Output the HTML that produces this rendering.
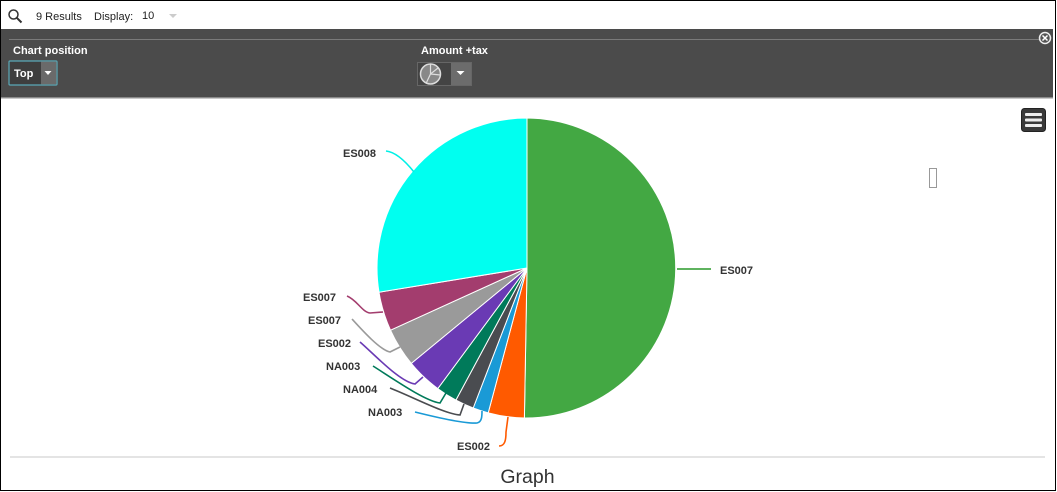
<!DOCTYPE html>
<html><head><meta charset="utf-8"><style>
html,body{margin:0;padding:0;background:#fff;}
svg{display:block;}
text{font-family:"Liberation Sans",Arial,sans-serif;}
</style></head><body>
<svg width="1057" height="492" viewBox="0 0 1057 492" xmlns="http://www.w3.org/2000/svg">
<rect x="0" y="0" width="1057" height="492" fill="#fff"/>
<!-- top bar -->
<circle cx="13.5" cy="14.5" r="4.5" fill="none" stroke="#333" stroke-width="1.5"/>
<line x1="16.8" y1="17.8" x2="21.5" y2="22.5" stroke="#333" stroke-width="2"/>
<text x="36" y="20" font-size="11" fill="#222">9 Results</text>
<text x="94" y="20" font-size="11" fill="#222">Display:</text>
<text x="142" y="19" font-size="11" fill="#222">10</text>
<path d="M169 14 L177 14 L173 18 Z" fill="#ccc"/>
<!-- dark panel -->
<rect x="1" y="29" width="1052" height="68" fill="#4b4b4b"/>
<line x1="9" y1="39.5" x2="1040" y2="39.5" stroke="#7a7a7a" stroke-width="1"/>
<rect x="1" y="97" width="1052" height="1" fill="#8a8a8a"/>
<rect x="1" y="98" width="1052" height="1" fill="#c8c8c8"/>
<text x="13" y="54" font-size="11" font-weight="bold" fill="#fff">Chart position</text>
<rect x="9" y="61" width="48" height="24" fill="#3e3e3e" stroke="#5aa9b8" stroke-width="1.2" rx="1"/>
<rect x="41" y="61.6" width="15.4" height="22.8" fill="#6a6a6a"/>
<text x="14" y="77" font-size="11" font-weight="bold" fill="#fff">Top</text>
<path d="M44.5 71 L51.5 71 L48 75 Z" fill="#fff"/>
<text x="421" y="54" font-size="11" font-weight="bold" fill="#fff">Amount +tax</text>
<rect x="417.5" y="62.5" width="54" height="23" fill="#444" stroke="#666" stroke-width="1"/>
<rect x="451" y="63" width="20" height="22" fill="#6c6c6c"/>
<circle cx="430.5" cy="74" r="10" fill="#888" stroke="#ddd" stroke-width="1.5"/>
<path d="M430.5 64 L430.5 74 L438 68 M430.5 74 L426 83.5 M430.5 74 L440.5 75" stroke="#ddd" stroke-width="1.2" fill="none"/>
<path d="M456.5 71 L464.5 71 L460.5 75 Z" fill="#fff"/>
<!-- close icon -->
<circle cx="1045" cy="38" r="5.5" fill="#555" stroke="#eee" stroke-width="1.5"/>
<path d="M1042.5 35.5 L1047.5 40.5 M1047.5 35.5 L1042.5 40.5" stroke="#fff" stroke-width="1.5"/>
<!-- hamburger -->
<rect x="1021.5" y="108.5" width="24" height="23" rx="3" fill="#3a3a3a" stroke="#222"/>
<rect x="1025" y="113" width="17" height="3" rx="1" fill="#eee"/>
<rect x="1025" y="118.5" width="17" height="3" rx="1" fill="#eee"/>
<rect x="1025" y="124" width="17" height="3" rx="1" fill="#eee"/>
<!-- small rect -->
<rect x="929.5" y="168.5" width="7" height="19" fill="none" stroke="#999"/>
<!-- pie -->
<g stroke="#fff" stroke-width="1" stroke-linejoin="round">
<path d="M527 268 L527 118 A150 150 0 1 1 524.4 418 Z" fill="#43a843"/>
<path d="M527 268 L524.4 418 A150 150 0 0 1 488.2 412.9 Z" fill="#ff5a00"/>
<path d="M527 268 L488.2 412.9 A150 150 0 0 1 473.2 408 Z" fill="#1a9ad6"/>
<path d="M527 268 L473.2 408 A150 150 0 0 1 455.9 400.1 Z" fill="#4a4c50"/>
<path d="M527 268 L455.9 400.1 A150 150 0 0 1 437.8 388.6 Z" fill="#007a5a"/>
<path d="M527 268 L437.8 388.6 A150 150 0 0 1 411.3 363.4 Z" fill="#6a3ab4"/>
<path d="M527 268 L411.3 363.4 A150 150 0 0 1 390.5 330.2 Z" fill="#9a9a9a"/>
<path d="M527 268 L390.5 330.2 A150 150 0 0 1 379 292.2 Z" fill="#a33d6e"/>
<path d="M527 268 L379 292.2 A150 150 0 0 1 527 118 Z" fill="#00fff0"/>
</g>
<!-- connectors -->
<g fill="none" stroke-width="1.6">
<path d="M386 151 C396 152 406 162 414 172" stroke="#00f0e6"/>
<path d="M677 269 L711 269" stroke="#2a9a2a"/>
<path d="M347 296 C357 300 362 312 370 313 L383 312" stroke="#a33d6e"/>
<path d="M352 319 C362 330 380 350 390 352 L400 347" stroke="#9a9a9a"/>
<path d="M360 342 C375 355 400 382 415 384 L423 377" stroke="#6a3ab4"/>
<path d="M373 366 C395 380 425 401 440 403 L446 393" stroke="#007a5a"/>
<path d="M390 388 C415 398 445 414 460 415 L464 404" stroke="#4a4c50"/>
<path d="M415 412 C435 417 465 424 477 423 C482 422 482 416 482 411" stroke="#1a9ad6"/>
<path d="M499 446 C505 446 506 440 506 432 L508 417" stroke="#ff5a00"/>
</g>
<!-- labels -->
<g font-size="11" font-weight="bold" fill="#333">
<text x="343" y="157">ES008</text>
<text x="720" y="274">ES007</text>
<text x="303" y="301">ES007</text>
<text x="308" y="324">ES007</text>
<text x="318" y="347">ES002</text>
<text x="326" y="370">NA003</text>
<text x="343" y="393">NA004</text>
<text x="368" y="416">NA003</text>
<text x="457" y="450">ES002</text>
</g>
<!-- footer -->
<rect x="10" y="456.5" width="1035" height="1" fill="#c8c8c8"/>
<text x="527.5" y="483" font-size="19.5" fill="#333" text-anchor="middle">Graph</text>
<!-- outer border -->
<rect x="0.5" y="0.5" width="1055" height="490" fill="none" stroke="#000" stroke-width="1"/>
</svg>
</body></html>
